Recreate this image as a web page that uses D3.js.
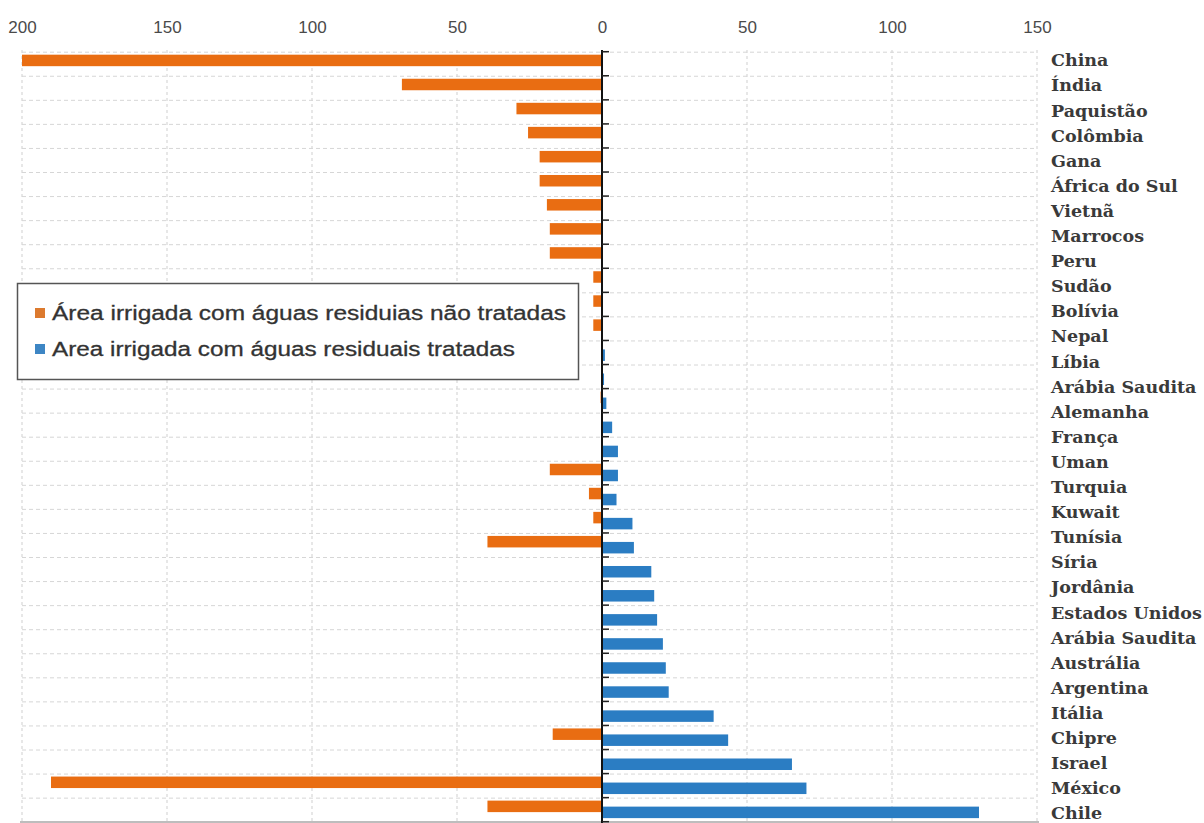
<!DOCTYPE html>
<html>
<head>
<meta charset="utf-8">
<script src="https://cdn.jsdelivr.net/npm/d3@7"></script>
<style>
  body { margin: 0; background: #fff; }
  svg { display: block; }
</style>
</head>
<body>
<svg id="chart" width="1204" height="823"></svg>
<script>
// Irrigated area with wastewater, by country (thousand ha)
// One entry per bar row, top to bottom (32 rows).
const untreated = [200, 69, 29.5, 25.5, 21.5, 21.5, 19, 18, 18, 3, 3, 3, 0, 0, 0.5, 0,
                   0, 18, 4.5, 3, 39.5, 0, 0, 0, 0, 0, 0, 0, 17, 0, 190, 39.5];
const treated   = [0, 0, 0, 0, 0, 0, 0, 0, 0, 0, 0, 0, 1, 0.7, 1.5, 3.5,
                   5.5, 5.5, 5, 10.5, 11, 17, 18, 19, 21, 22, 23, 38.5, 43.5, 65.5, 70.5, 130];

// Country names listed down the right-hand side
const countries = ["China", "Índia", "Paquistão", "Colômbia", "Gana", "África do Sul",
  "Vietnã", "Marrocos", "Peru", "Sudão", "Bolívia", "Nepal", "Líbia", "Arábia Saudita",
  "Alemanha", "França", "Uman", "Turquia", "Kuwait", "Tunísia", "Síria", "Jordânia",
  "Estados Unidos", "Arábia Saudita", "Austrália", "Argentina", "Itália", "Chipre",
  "Israel", "México", "Chile"];

const tickValues = [-200, -150, -100, -50, 0, 50, 100, 150];

const seriesNames = ["Área irrigada com águas residuias não tratadas",
                     "Area irrigada com águas residuais tratadas"];
const seriesColors = ["#e96d12", "#2b7dc3"];
const legendColors = ["#dc7a2e", "#3d86c4"];
const legendTextWidths = [514, 463];

const svg = d3.select("#chart");

const rows = d3.range(untreated.length);
const x = d3.scaleLinear().domain([-200, 150]).range([22, 1037]);
const y = d3.scaleBand().domain(rows).range([51.7, 821.7]);
const yLabel = d3.scalePoint().domain(d3.range(countries.length)).range([60, 813]);

// vertical gridlines
svg.append("g").selectAll("line")
  .data(tickValues.filter(d => d !== 0))
  .join("line")
  .attr("x1", d => x(d)).attr("x2", d => x(d))
  .attr("y1", 50).attr("y2", 821)
  .attr("stroke", "#cfcfcf").attr("stroke-width", 1)
  .attr("stroke-dasharray", "3,3");

// horizontal gridlines at row boundaries
svg.append("g").selectAll("line")
  .data(rows)
  .join("line")
  .attr("x1", x(-200)).attr("x2", x(150))
  .attr("y1", d => y(d) + 0.5).attr("y2", d => y(d) + 0.5)
  .attr("stroke", "#d6d6d6").attr("stroke-width", 1)
  .attr("stroke-dasharray", "4,3");

// bottom border
svg.append("line")
  .attr("x1", x(-200) - 2).attr("x2", x(150) + 2)
  .attr("y1", 822).attr("y2", 822)
  .attr("stroke", "#bdbdbd").attr("stroke-width", 2);

// top value axis
const axis = d3.axisTop(x).tickValues(tickValues).tickSize(0).tickPadding(0)
  .tickFormat(d => Math.abs(d));
const gAxis = svg.append("g").attr("transform", "translate(0,33)").call(axis);
gAxis.select(".domain").remove();
gAxis.selectAll("text")
  .attr("font-family", "Liberation Sans, Arial, sans-serif")
  .attr("font-size", 17)
  .attr("fill", "#4a4a4a");

// untreated bars (extend left)
const bh = 11.5;
svg.append("g").selectAll("rect")
  .data(rows.filter(i => untreated[i] > 0))
  .join("rect")
  .attr("x", i => x(-untreated[i]))
  .attr("width", i => x(0) - x(-untreated[i]))
  .attr("y", i => y(i) + y.bandwidth() / 2 - 3.3 - bh / 2)
  .attr("height", bh)
  .attr("fill", seriesColors[0]);

// treated bars (extend right)
svg.append("g").selectAll("rect")
  .data(rows.filter(i => treated[i] > 0))
  .join("rect")
  .attr("x", x(0))
  .attr("width", i => x(treated[i]) - x(0))
  .attr("y", i => y(i) + y.bandwidth() / 2 + 2.7 - bh / 2)
  .attr("height", bh)
  .attr("fill", seriesColors[1]);

// zero axis with row ticks
svg.append("line")
  .attr("x1", x(0)).attr("x2", x(0))
  .attr("y1", 50).attr("y2", 823)
  .attr("stroke", "#111").attr("stroke-width", 2);
svg.append("g").selectAll("line")
  .data(rows.concat([rows.length]))
  .join("line")
  .attr("x1", x(0)).attr("x2", x(0) + 7)
  .attr("y1", d => d < rows.length ? y(d) : y.range()[1])
  .attr("y2", d => d < rows.length ? y(d) : y.range()[1])
  .attr("stroke", "#222").attr("stroke-width", 1.5);

// country labels
svg.append("g").selectAll("text")
  .data(countries)
  .join("text")
  .attr("x", 1051)
  .attr("y", (d, i) => yLabel(i))
  .attr("dy", "0.36em")
  .attr("font-family", "DejaVu Serif, serif")
  .attr("font-weight", "bold")
  .attr("font-size", 17.5)
  .attr("fill", "#3a3a3a")
  .text(d => d);

// legend
const lg = svg.append("g");
lg.append("rect")
  .attr("x", 17.5).attr("y", 283.5).attr("width", 561).attr("height", 96)
  .attr("fill", "#fff").attr("stroke", "#555").attr("stroke-width", 1.5);
const items = lg.selectAll("g.item")
  .data(seriesNames)
  .join("g")
  .attr("class", "item")
  .attr("transform", (d, i) => `translate(35,${313 + i * 36})`);
items.append("rect")
  .attr("x", 0).attr("y", -5).attr("width", 10).attr("height", 10)
  .attr("fill", (d, i) => legendColors[i]);
items.append("text")
  .attr("x", 17).attr("dy", "0.36em")
  .attr("font-family", "Liberation Sans, Arial, sans-serif")
  .attr("font-size", 20)
  .attr("textLength", (d, i) => legendTextWidths[i])
  .attr("lengthAdjust", "spacingAndGlyphs")
  .attr("fill", "#333")
  .attr("stroke", "#333").attr("stroke-width", 0.3)
  .text(d => d);
</script>
</body>
</html>
